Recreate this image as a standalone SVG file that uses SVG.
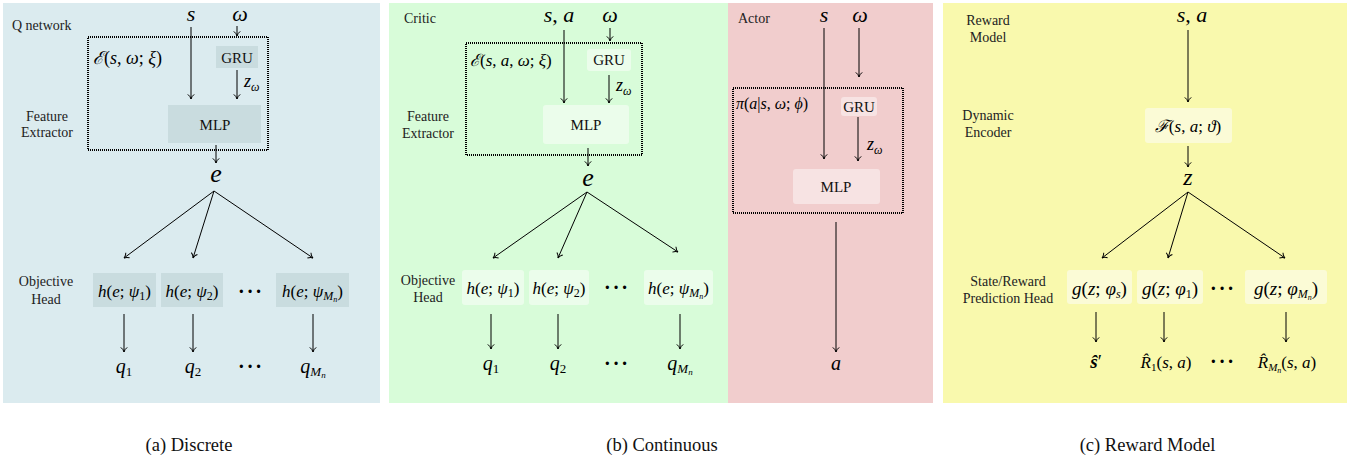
<svg xmlns="http://www.w3.org/2000/svg" width="1351" height="462" viewBox="0 0 1351 462" font-family="Liberation Serif, Times New Roman, DejaVu Serif, serif">
  <defs>
    <marker id="arr" viewBox="0 0 8 8" refX="7.6" refY="4" markerWidth="8" markerHeight="8" markerUnits="userSpaceOnUse" orient="auto">
      <path d="M3,0.8 Q5,3.4 7.6,4 Q5,4.6 3,7.2" fill="none" stroke="#000" stroke-width="1"/>
    </marker>
  </defs>
  <style>
    text { font-family: 'Liberation Serif', 'Times New Roman', 'DejaVu Serif', serif; }
    .lbl { font-size: 14px; fill: #222; }
    .cap { font-size: 18.5px; fill: #111; text-anchor: middle; }
    .box { font-size: 15px; fill: #111; text-anchor: middle; }
    .m { font-style: italic; fill: #000; }
    .up { font-style: normal; }
    .big { font-size: 22px; text-anchor: middle; }
    .mid { font-size: 17px; text-anchor: middle; }
    .dots { font-size: 20px; text-anchor: middle; fill: #000; font-weight: bold; letter-spacing: 2px; }
    .edge { stroke: #000; stroke-width: 1; fill: none; marker-end: url(#arr); }
    .frame { fill: none; stroke: #000; stroke-width: 2; stroke-dasharray: 1 1; }
  </style>

  <!-- panel backgrounds -->
  <rect x="3" y="3" width="377" height="400" fill="#dbebef"/>
  <rect x="389" y="3" width="339" height="400" fill="#d8fcd9"/>
  <rect x="728" y="3" width="205" height="400" fill="#f1cdcd"/>
  <rect x="943" y="3" width="404" height="400" fill="#f9f9ad"/>

  <!-- (a) Discrete: Q network -->
  <g id="q-network">
    <text class="lbl" x="12" y="30">Q network</text>
    <text class="lbl" x="47" y="121" text-anchor="middle">Feature</text>
    <text class="lbl" x="47" y="137" text-anchor="middle">Extractor</text>
    <text class="m big" x="191" y="21">s</text>
    <text class="m big" x="240" y="21">ω</text>
    <rect class="frame" x="88" y="37" width="180" height="113"/>
    <text class="m" x="93" y="64" font-size="18">ℰ<tspan class="up">(</tspan>s<tspan class="up">, </tspan>ω<tspan class="up">; </tspan>ξ<tspan class="up">)</tspan></text>
  </g>
  <g id="q-gru">
    <rect x="216" y="46" width="42" height="22" fill="#c9dcdf"/>
    <text class="box" x="237" y="63">GRU</text>
  </g>
  <text class="m" x="244" y="87" font-size="18">z<tspan font-size="12" dy="4">ω</tspan></text>
  <g id="q-mlp">
    <rect x="168" y="105" width="93" height="38" fill="#c9dcdf"/>
    <text class="box" x="215" y="130">MLP</text>
  </g>
  <text class="m" x="216" y="182" font-size="26" text-anchor="middle">e</text>
  <g id="q-heads">
    <text class="lbl" x="46" y="286" text-anchor="middle">Objective</text>
    <text class="lbl" x="46" y="304" text-anchor="middle">Head</text>
    <rect x="93" y="273" width="63" height="34" fill="#c9dcdf"/>
    <text class="m mid" x="124.5" y="297">h<tspan class="up">(</tspan>e<tspan class="up">; </tspan>ψ<tspan class="up" font-size="12" dy="3">1</tspan><tspan class="up" dy="-3">)</tspan></text>
    <rect x="161" y="273" width="62" height="34" fill="#c9dcdf"/>
    <text class="m mid" x="192" y="297">h<tspan class="up">(</tspan>e<tspan class="up">; </tspan>ψ<tspan class="up" font-size="12" dy="3">2</tspan><tspan class="up" dy="-3">)</tspan></text>
    <text class="dots" x="251" y="298">···</text>
    <rect x="276" y="273" width="73" height="34" fill="#c9dcdf"/>
    <text class="m mid" x="312.5" y="297">h<tspan class="up">(</tspan>e<tspan class="up">; </tspan>ψ<tspan font-size="12" dy="3">M</tspan><tspan font-size="8" dy="2">n</tspan><tspan class="up" dy="-5">)</tspan></text>
  </g>
  <g id="q-outputs">
    <text class="m" x="124" y="373" font-size="20" text-anchor="middle">q<tspan class="up" font-size="13" dy="3">1</tspan></text>
    <text class="m" x="193" y="373" font-size="20" text-anchor="middle">q<tspan class="up" font-size="13" dy="3">2</tspan></text>
    <text class="dots" x="251" y="373">···</text>
    <text class="m" x="313" y="373" font-size="20" text-anchor="middle">q<tspan font-size="13" dy="3">M</tspan><tspan font-size="9" dy="2">n</tspan></text>
  </g>

  <!-- (b) Continuous: critic -->
  <g id="critic">
    <text class="lbl" x="404" y="23">Critic</text>
    <text class="lbl" x="428" y="121" text-anchor="middle">Feature</text>
    <text class="lbl" x="428" y="138" text-anchor="middle">Extractor</text>
    <text class="m big" x="559" y="22">s<tspan class="up">, </tspan>a</text>
    <text class="m big" x="610" y="22">ω</text>
    <rect class="frame" x="466" y="43" width="176" height="112"/>
    <text class="m" x="470" y="66" font-size="17">ℰ<tspan class="up">(</tspan>s<tspan class="up">, </tspan>a<tspan class="up">, </tspan>ω<tspan class="up">; </tspan>ξ<tspan class="up">)</tspan></text>
  </g>
  <g id="critic-gru">
    <rect x="587" y="49" width="44" height="22" rx="3" fill="#ebfdeb"/>
    <text class="box" x="609" y="65">GRU</text>
  </g>
  <text class="m" x="616" y="91" font-size="18">z<tspan font-size="12" dy="4">ω</tspan></text>
  <g id="critic-mlp">
    <rect x="543" y="105" width="86" height="39" rx="3" fill="#ebfdeb"/>
    <text class="box" x="586" y="130">MLP</text>
  </g>
  <text class="m" x="588" y="186" font-size="26" text-anchor="middle">e</text>
  <g id="critic-heads">
    <text class="lbl" x="428" y="285" text-anchor="middle">Objective</text>
    <text class="lbl" x="428" y="302" text-anchor="middle">Head</text>
    <rect x="462" y="270" width="62" height="35" rx="3" fill="#ebfdeb"/>
    <text class="m mid" x="493" y="294">h<tspan class="up">(</tspan>e<tspan class="up">; </tspan>ψ<tspan class="up" font-size="12" dy="3">1</tspan><tspan class="up" dy="-3">)</tspan></text>
    <rect x="529" y="270" width="60" height="35" rx="3" fill="#ebfdeb"/>
    <text class="m mid" x="559" y="294">h<tspan class="up">(</tspan>e<tspan class="up">; </tspan>ψ<tspan class="up" font-size="12" dy="3">2</tspan><tspan class="up" dy="-3">)</tspan></text>
    <text class="dots" x="617" y="294">···</text>
    <rect x="644" y="270" width="69" height="35" rx="3" fill="#ebfdeb"/>
    <text class="m mid" x="678.5" y="294">h<tspan class="up">(</tspan>e<tspan class="up">; </tspan>ψ<tspan font-size="12" dy="3">M</tspan><tspan font-size="8" dy="2">n</tspan><tspan class="up" dy="-5">)</tspan></text>
  </g>
  <g id="critic-outputs">
    <text class="m" x="491" y="370" font-size="20" text-anchor="middle">q<tspan class="up" font-size="13" dy="3">1</tspan></text>
    <text class="m" x="558" y="370" font-size="20" text-anchor="middle">q<tspan class="up" font-size="13" dy="3">2</tspan></text>
    <text class="dots" x="617" y="370">···</text>
    <text class="m" x="680" y="370" font-size="20" text-anchor="middle">q<tspan font-size="13" dy="3">M</tspan><tspan font-size="9" dy="2">n</tspan></text>
  </g>

  <!-- (b) Continuous: actor -->
  <g id="actor">
    <text class="lbl" x="738" y="23">Actor</text>
    <text class="m big" x="824" y="22">s</text>
    <text class="m big" x="860" y="22">ω</text>
    <rect class="frame" x="733" y="88" width="170" height="125"/>
    <text class="m" x="736" y="109" font-size="16">π<tspan class="up">(</tspan>a<tspan class="up">|</tspan>s<tspan class="up">, </tspan>ω<tspan class="up">; </tspan>ϕ<tspan class="up">)</tspan></text>
  </g>
  <g id="actor-gru">
    <rect x="841" y="97" width="36" height="19" rx="3" fill="#f7e3e3"/>
    <text class="box" x="859" y="112">GRU</text>
  </g>
  <text class="m" x="867" y="150" font-size="18">z<tspan font-size="12" dy="4">ω</tspan></text>
  <g id="actor-mlp">
    <rect x="793" y="169" width="87" height="35" rx="3" fill="#f7e3e3"/>
    <text class="box" x="836" y="192">MLP</text>
  </g>
  <text class="m" x="836" y="370" font-size="20" text-anchor="middle">a</text>

  <!-- (c) Reward model -->
  <g id="reward-model">
    <text class="lbl" x="988" y="25" text-anchor="middle">Reward</text>
    <text class="lbl" x="988" y="42" text-anchor="middle">Model</text>
    <text class="lbl" x="988" y="120" text-anchor="middle">Dynamic</text>
    <text class="lbl" x="988" y="137" text-anchor="middle">Encoder</text>
    <text class="m big" x="1192" y="22">s<tspan class="up">, </tspan>a</text>
  </g>
  <g id="dynamic-encoder">
    <rect x="1145" y="108" width="87" height="35" rx="3" fill="#fbfbd6"/>
    <text class="m mid" x="1188" y="132">ℱ<tspan class="up">(</tspan>s<tspan class="up">, </tspan>a<tspan class="up">; </tspan>ϑ<tspan class="up">)</tspan></text>
  </g>
  <text class="m" x="1188" y="185" font-size="24" text-anchor="middle">z</text>
  <g id="prediction-heads">
    <text class="lbl" x="1008" y="286" text-anchor="middle">State/Reward</text>
    <text class="lbl" x="1008" y="303" text-anchor="middle">Prediction Head</text>
    <rect x="1067" y="270" width="65" height="34" rx="3" fill="#fbfbd6"/>
    <text class="m" x="1099.5" y="295" font-size="19" text-anchor="middle">g<tspan class="up">(</tspan>z<tspan class="up">; </tspan>φ<tspan font-size="12" dy="3">s</tspan><tspan class="up" dy="-3">)</tspan></text>
    <rect x="1137" y="270" width="66" height="34" rx="3" fill="#fbfbd6"/>
    <text class="m" x="1170" y="295" font-size="19" text-anchor="middle">g<tspan class="up">(</tspan>z<tspan class="up">; </tspan>φ<tspan class="up" font-size="12" dy="3">1</tspan><tspan class="up" dy="-3">)</tspan></text>
    <text class="dots" x="1223" y="295">···</text>
    <rect x="1245" y="270" width="82" height="34" rx="3" fill="#fbfbd6"/>
    <text class="m" x="1286" y="295" font-size="19" text-anchor="middle">g<tspan class="up">(</tspan>z<tspan class="up">; </tspan>φ<tspan font-size="12" dy="3">M</tspan><tspan font-size="8" dy="2">n</tspan><tspan class="up" dy="-5">)</tspan></text>
  </g>
  <g id="reward-outputs">
    <text class="m" x="1096" y="368" font-size="19" text-anchor="middle" font-weight="bold">ŝ<tspan class="up" font-weight="normal">′</tspan></text>
    <text class="m" x="1166" y="368" font-size="17" text-anchor="middle">R̂<tspan class="up" font-size="11" dy="3">1</tspan><tspan class="up" dy="-3">(</tspan>s<tspan class="up">, </tspan>a<tspan class="up">)</tspan></text>
    <text class="dots" x="1223" y="368">···</text>
    <text class="m" x="1287" y="368" font-size="17" text-anchor="middle">R̂<tspan font-size="11" dy="3">M</tspan><tspan font-size="8" dy="2">n</tspan><tspan class="up" dy="-5">(</tspan>s<tspan class="up">, </tspan>a<tspan class="up">)</tspan></text>
  </g>

  <!-- connectors -->
  <g id="connectors">
    <!-- Q network -->
    <line class="edge" x1="237" y1="26" x2="237" y2="36"/>
    <line class="edge" x1="191" y1="27" x2="191" y2="99"/>
    <line class="edge" x1="237" y1="70" x2="237" y2="99"/>
    <line class="edge" x1="216" y1="145" x2="216" y2="163"/>
    <line class="edge" x1="214" y1="191" x2="124" y2="258"/>
    <line class="edge" x1="214" y1="191" x2="193" y2="258"/>
    <line class="edge" x1="214" y1="191" x2="313" y2="258"/>
    <line class="edge" x1="124" y1="314" x2="124" y2="352"/>
    <line class="edge" x1="193" y1="314" x2="193" y2="352"/>
    <line class="edge" x1="313" y1="314" x2="313" y2="352"/>
    <!-- critic -->
    <line class="edge" x1="610" y1="28" x2="610" y2="41"/>
    <line class="edge" x1="564" y1="30" x2="564" y2="103"/>
    <line class="edge" x1="609" y1="75" x2="609" y2="103"/>
    <line class="edge" x1="588" y1="148" x2="588" y2="166"/>
    <line class="edge" x1="587" y1="192" x2="493" y2="258"/>
    <line class="edge" x1="587" y1="192" x2="558" y2="258"/>
    <line class="edge" x1="587" y1="192" x2="678" y2="252"/>
    <line class="edge" x1="491" y1="314" x2="491" y2="349"/>
    <line class="edge" x1="558" y1="314" x2="558" y2="349"/>
    <line class="edge" x1="680" y1="314" x2="680" y2="349"/>
    <!-- actor -->
    <line class="edge" x1="824" y1="28" x2="824" y2="159"/>
    <line class="edge" x1="859" y1="28" x2="859" y2="77"/>
    <line class="edge" x1="858" y1="117" x2="858" y2="161"/>
    <line class="edge" x1="836" y1="222" x2="836" y2="352"/>
    <!-- reward model -->
    <line class="edge" x1="1188" y1="30" x2="1188" y2="102"/>
    <line class="edge" x1="1188" y1="146" x2="1188" y2="167"/>
    <line class="edge" x1="1188" y1="192" x2="1102" y2="258"/>
    <line class="edge" x1="1188" y1="192" x2="1168" y2="258"/>
    <line class="edge" x1="1188" y1="192" x2="1285" y2="258"/>
    <line class="edge" x1="1096" y1="312" x2="1096" y2="342"/>
    <line class="edge" x1="1164" y1="312" x2="1164" y2="342"/>
    <line class="edge" x1="1286" y1="312" x2="1286" y2="342"/>
  </g>

  <!-- captions -->
  <text class="cap" x="189" y="451">(a) Discrete</text>
  <text class="cap" x="662" y="451">(b) Continuous</text>
  <text class="cap" x="1147.5" y="451">(c) Reward Model</text>
</svg>
